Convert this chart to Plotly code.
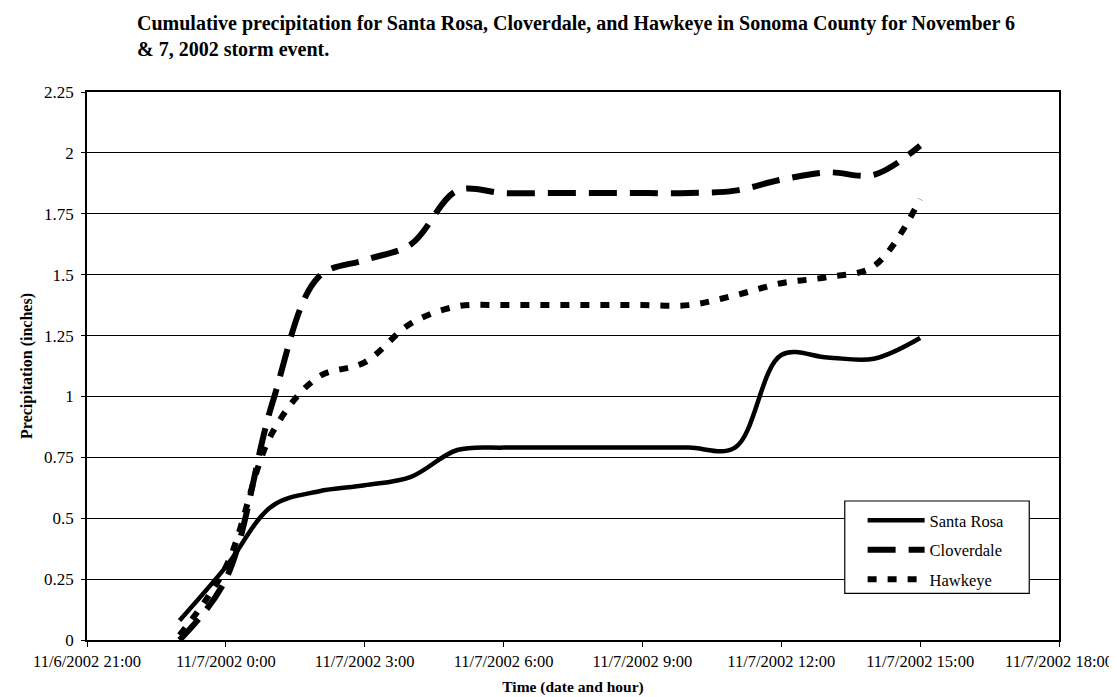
import plotly.graph_objects as go

# ---- data (hourly readings, 11/6/2002 23:00 to 11/7/2002 15:00) ----
times = [
    "2002-11-06 23:00", "2002-11-07 00:00", "2002-11-07 01:00", "2002-11-07 02:00",
    "2002-11-07 03:00", "2002-11-07 04:00", "2002-11-07 05:00", "2002-11-07 06:00",
    "2002-11-07 07:00", "2002-11-07 08:00", "2002-11-07 09:00", "2002-11-07 10:00",
    "2002-11-07 11:00", "2002-11-07 12:00", "2002-11-07 13:00", "2002-11-07 14:00",
    "2002-11-07 15:00",
]
santa_rosa = [0.08, 0.30, 0.55, 0.61, 0.635, 0.67, 0.78, 0.79, 0.79, 0.79, 0.79, 0.79,
              0.79, 1.17, 1.16, 1.155, 1.24]
cloverdale = [0.0, 0.25, 0.97, 1.49, 1.56, 1.625, 1.845, 1.835, 1.835, 1.835, 1.835, 1.835,
              1.845, 1.89, 1.92, 1.91, 2.03]
hawkeye = [0.02, 0.30, 0.85, 1.08, 1.14, 1.30, 1.37, 1.375, 1.375, 1.375, 1.375, 1.375,
           1.415, 1.465, 1.49, 1.535, 1.81]

tick_vals = ["2002-11-06 21:00", "2002-11-07 00:00", "2002-11-07 03:00", "2002-11-07 06:00",
             "2002-11-07 09:00", "2002-11-07 12:00", "2002-11-07 15:00", "2002-11-07 18:00"]
tick_text = ["11/6/2002 21:00", "11/7/2002 0:00", "11/7/2002 3:00", "11/7/2002 6:00",
             "11/7/2002 9:00", "11/7/2002 12:00", "11/7/2002 15:00", "11/7/2002 18:00"]
y_ticks = [0, 0.25, 0.5, 0.75, 1, 1.25, 1.5, 1.75, 2, 2.25]
y_text = ["0", "0.25", "0.5", "0.75", "1", "1.25", "1.5", "1.75", "2", "2.25"]

FONT = "Liberation Serif, Times New Roman, serif"
L, R, T, B = 79, 1059, 84, 636  # plot area in pixels
PW, PH = R - L, B - T


def px(xp):
    return (xp - L) / PW


def py(yp):
    return (B - yp) / PH


fig = go.Figure()
fig.add_trace(go.Scatter(x=times, y=santa_rosa, name="Santa Rosa", mode="lines",
                         legendgroup="a",
                         line=dict(color="black", width=4.5, shape="spline", smoothing=1.0)))
fig.add_trace(go.Scatter(x=times, y=cloverdale, name="Cloverdale", mode="lines",
                         legendgroup="b",
                         line=dict(color="black", width=6, shape="spline", smoothing=1.0,
                                   dash="28px,13px")))
fig.add_trace(go.Scatter(x=times, y=hawkeye, name="Hawkeye", mode="lines",
                         legendgroup="c",
                         line=dict(color="black", width=6, shape="spline", smoothing=1.0,
                                   dash="9px,11px")))

fig.update_layout(
    width=1117, height=697,
    paper_bgcolor="white", plot_bgcolor="white",
    margin=dict(l=L, r=1117 - R, t=T, b=697 - B),
    font=dict(family=FONT, color="black", size=16),
    showlegend=True,
    legend=dict(x=px(861), y=py(498), xanchor="left", yanchor="top",
                bgcolor="rgba(0,0,0,0)", borderwidth=0,
                font=dict(family=FONT, size=16.5, color="black"),
                itemwidth=57, tracegroupgap=5),
    shapes=[
        dict(type="rect", xref="paper", yref="paper",
             x0=px(843), x1=px(1029), y0=py(589), y1=py(496),
             line=dict(color="black", width=1.2), fillcolor="white", layer="above"),
    ],
    annotations=[
        dict(text="<b>Cumulative precipitation for Santa Rosa, Cloverdale, and Hawkeye in Sonoma County for November 6<br>&amp; 7, 2002 storm event.</b>",
             xref="paper", yref="paper", x=px(127), y=py(1),
             xanchor="left", yanchor="top", align="left", showarrow=False,
             font=dict(family=FONT, size=20, color="black")),
    ],
)

fig.update_xaxes(
    type="date",
    range=["2002-11-06 21:00", "2002-11-07 18:00"],
    tickmode="array", tickvals=tick_vals, ticktext=tick_text,
    showgrid=False, showline=True, linecolor="black", linewidth=1.6, mirror=True,
    ticks="outside", ticklen=5, tickcolor="black",
    tickfont=dict(family=FONT, size=16.5, color="black"),
    title=dict(text="<b>Time (date and hour)</b>", font=dict(family=FONT, size=15.5, color="black"),
               standoff=12),
    zeroline=False,
)
fig.update_yaxes(
    range=[0, 2.25],
    tickmode="array", tickvals=y_ticks, ticktext=y_text,
    showgrid=True, gridcolor="black", gridwidth=1,
    showline=True, linecolor="black", linewidth=1.6, mirror=True,
    ticks="outside", ticklen=4, tickcolor="black", ticklabelstandoff=4,
    tickfont=dict(family=FONT, size=17, color="black"),
    title=dict(text="<b>Precipitation (inches)</b>", font=dict(family=FONT, size=16, color="black"),
               standoff=7),
    zeroline=False,
)

fig.write_html("out.html")
